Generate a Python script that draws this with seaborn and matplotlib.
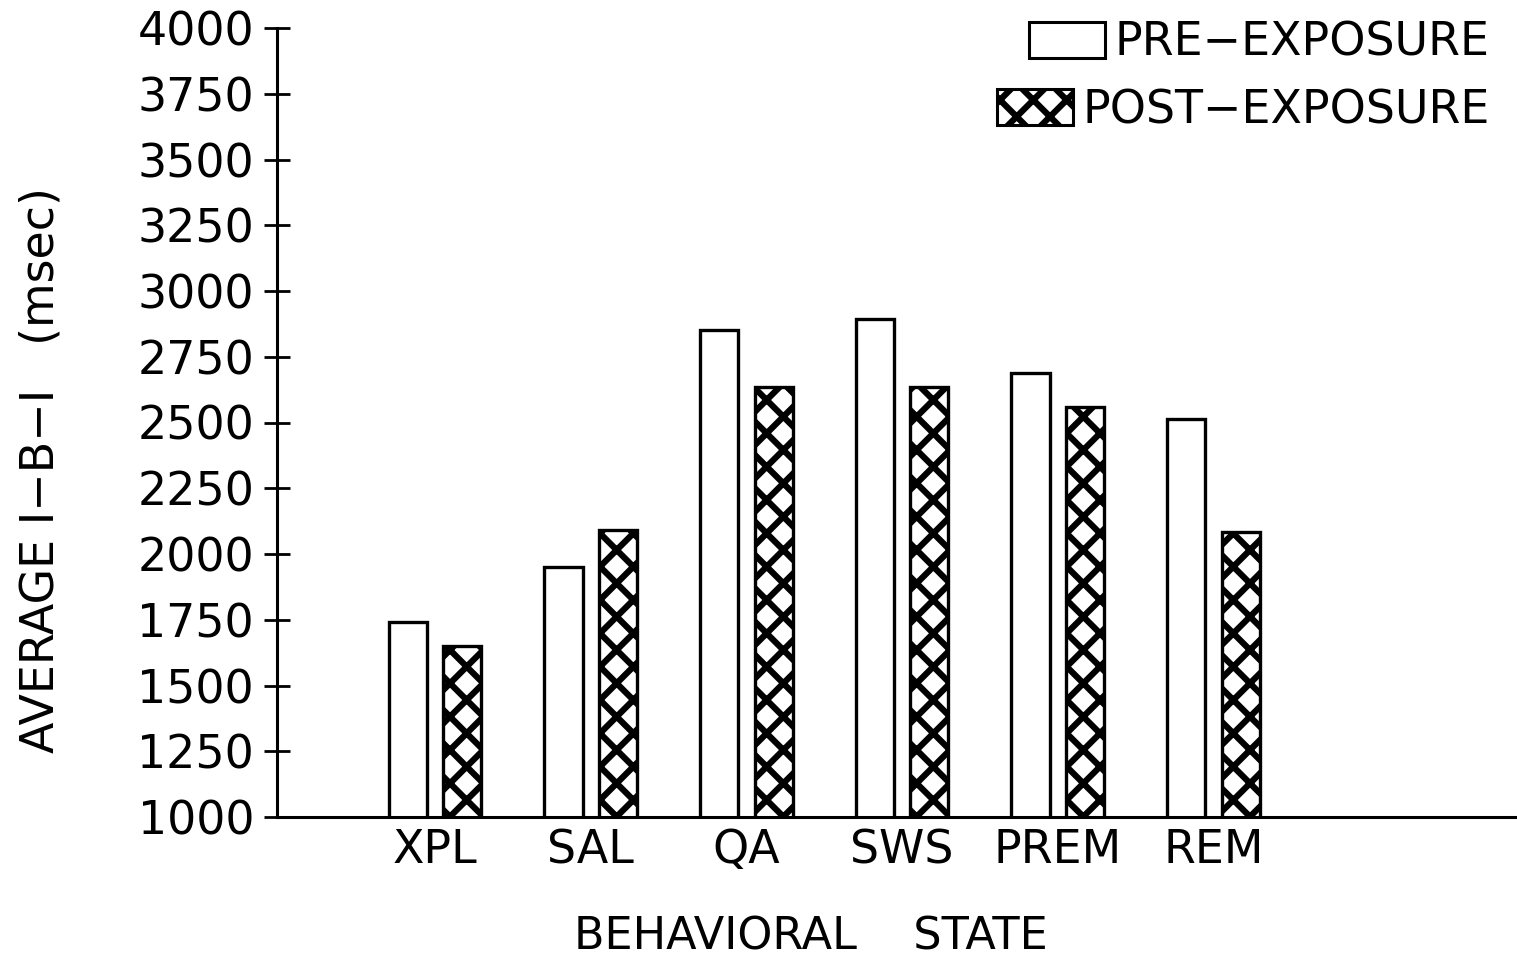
import matplotlib
matplotlib.use("Agg")
import matplotlib.pyplot as plt
import seaborn as sns
import pandas as pd
from matplotlib.patches import Patch

# ---- data ----
states = ["XPL", "SAL", "QA", "SWS", "PREM", "REM"]
pre_exposure = [1740, 1950, 2850, 2895, 2690, 2515]
post_exposure = [1650, 2090, 2635, 2635, 2560, 2085]
series_names = ["PRE\u2212EXPOSURE", "POST\u2212EXPOSURE"]
y_ticks = [1000, 1250, 1500, 1750, 2000, 2250, 2500, 2750, 3000, 3250, 3500, 3750, 4000]

df = pd.DataFrame({
    "state": states * 2,
    "value": pre_exposure + post_exposure,
    "series": [series_names[0]] * len(states) + [series_names[1]] * len(states),
})

sns.set_theme(style="ticks")
plt.rcParams["font.family"] = ["DejaVu Sans"]
plt.rcParams["hatch.linewidth"] = 4.5
plt.rcParams["text.color"] = "black"

fig = plt.figure(figsize=(15.17, 9.58), dpi=100)
ax = fig.add_axes([277 / 1517, 1 - 817 / 958, 1 - 277 / 1517, (817 - 28) / 958])

sns.barplot(data=df, x="state", y="value", hue="series", order=states,
            hue_order=series_names, palette={series_names[0]: "white", series_names[1]: "white"},
            edgecolor="black", linewidth=2.4, width=0.7, gap=0.3, legend=False, ax=ax,
            errorbar=None, saturation=1)

for bar in ax.containers[1]:
    bar.set_hatch("x")
    bar.set_hatch_linewidth(4.5)

ax.set_ylim(1000, 4000)
ax.set_xlim(-1.015, 6.95)
ax.set_yticks(y_ticks)
ax.set_yticklabels([str(t) for t in y_ticks], fontsize=33)
ax.tick_params(axis="y", direction="inout", length=19, width=2, pad=7, colors="black")
ax.tick_params(axis="x", length=0, pad=8, labelsize=33, colors="black")

for side in ["top", "right"]:
    ax.spines[side].set_visible(False)
for side in ["left", "bottom"]:
    ax.spines[side].set_linewidth(2.2)
    ax.spines[side].set_color("black")

ax.set_ylabel("AVERAGE I\u2212B\u2212I   (msec)", fontsize=33, color="black")
ax.yaxis.set_label_coords((64 - 277) / 1240, (817 - 470) / 789)
ax.set_xlabel("BEHAVIORAL    STATE", fontsize=32, color="black")
ax.xaxis.set_label_coords((811 - 277) / 1240, (817 - 915) / 789)

h_pre = Patch(facecolor="white", edgecolor="black", linewidth=2.2)
h_post = Patch(facecolor="white", edgecolor="black", linewidth=2.2, hatch="x")
h_post.set_hatch_linewidth(4.5)
common = dict(frameon=False, fontsize=33, handlelength=1.65, handleheight=0.85,
              handletextpad=0.22, borderpad=0, borderaxespad=0, loc="upper right",
              bbox_transform=fig.transFigure, labelcolor="black")
leg1 = ax.legend([h_pre], [series_names[0]], bbox_to_anchor=(1490 / 1517, 1 - 21 / 958), **common)
ax.add_artist(leg1)
leg2 = ax.legend([h_post], [series_names[1]], bbox_to_anchor=(1490 / 1517, 1 - 88 / 958), **common)

fig.savefig("out.png", dpi=100)
